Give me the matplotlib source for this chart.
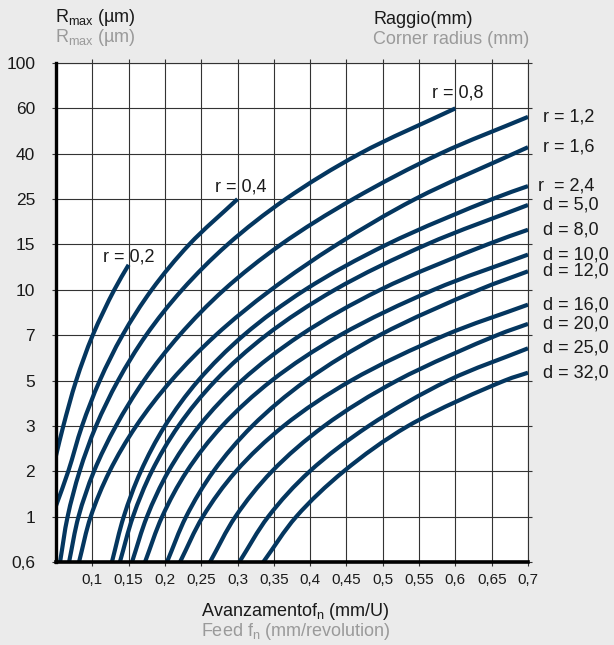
import numpy as np
import matplotlib
matplotlib.use("Agg")
import matplotlib.pyplot as plt
from matplotlib.path import Path
from matplotlib.patches import PathPatch
from matplotlib.ticker import FixedLocator, FixedFormatter, NullLocator

plt.rcParams["font.family"] = ["Liberation Sans", "DejaVu Sans"]
plt.rcParams["mathtext.fontset"] = "custom"
plt.rcParams["mathtext.rm"] = "Liberation Sans"
plt.rcParams["mathtext.it"] = "Liberation Sans:italic"

# Rmax axis: the labels are drawn evenly spaced in the original chart
rmax_ticks = [0.6, 1, 2, 3, 5, 7, 10, 15, 25, 40, 60, 100]
rmax_tick_labels = ["0,6", "1", "2", "3", "5", "7", "10", "15", "25", "40", "60", "100"]
feed_ticks = [0.1, 0.15, 0.2, 0.25, 0.3, 0.35, 0.4, 0.45, 0.5, 0.55, 0.6, 0.65, 0.7]
feed_tick_labels = ["0,1", "0,15", "0,2", "0,25", "0,3", "0,35", "0,4",
                    "0,45", "0,5", "0,55", "0,6", "0,65", "0,7"]

curve_labels = ["r = 0,2", "r = 0,4", "r = 0,8", "r = 1,2", "r = 1,6", "r  = 2,4",
                "d = 5,0", "d = 8,0", "d = 10,0", "d = 12,0", "d = 16,0",
                "d = 20,0", "d = 25,0", "d = 32,0"]

# feed (mm/U) where each curve crosses the Rmax grid lines, plus its end point
curve_feed = [
    [0.05, 0.0601, 0.0778, 0.1006, 0.1303, 0.15],
    [0.05, 0.0669, 0.0859, 0.1103, 0.1416, 0.1818, 0.2335, 0.30],
    [0.0556, 0.066, 0.0825, 0.1052, 0.1355, 0.1741, 0.2237, 0.2864, 0.3663, 0.4682, 0.60],
    [0.068, 0.081, 0.1023, 0.1326, 0.1712, 0.2201, 0.2814, 0.3599, 0.4591, 0.5789, 0.70],
    [0.0817, 0.0978, 0.1238, 0.1605, 0.2088, 0.2700, 0.3461, 0.4371, 0.5445, 0.70],
    [0.127, 0.1433, 0.1668, 0.2, 0.2459, 0.3085, 0.393, 0.5057, 0.6508, 0.70],
    [0.138, 0.156, 0.1819, 0.2187, 0.2697, 0.3395, 0.4339, 0.5604, 0.70],
    [0.1547, 0.1753, 0.2049, 0.2471, 0.3059, 0.3867, 0.4965, 0.6441, 0.70],
    [0.1726, 0.1962, 0.2302, 0.2789, 0.3471, 0.4413, 0.57, 0.70],
    [0.2029, 0.2292, 0.2669, 0.3204, 0.3945, 0.4957, 0.6324, 0.70],
    [0.2208, 0.2522, 0.2979, 0.3636, 0.4564, 0.5857, 0.70],
    [0.2621, 0.2971, 0.3475, 0.4195, 0.5197, 0.6574, 0.70],
    [0.3025, 0.3423, 0.3995, 0.4808, 0.59, 0.70],
    [0.3355, 0.3809, 0.4463, 0.535, 0.668, 0.70],
]
curve_rmax = [
    [2.3, 3, 5, 7, 10, 12.5],
    [1.18, 2, 3, 5, 7, 10, 15, 25],
    [0.6, 1, 2, 3, 5, 7, 10, 15, 25, 40, 60],
    [0.6, 1, 2, 3, 5, 7, 10, 15, 25, 40, 55.6],
    [0.6, 1, 2, 3, 5, 7, 10, 15, 25, 42.4],
    [0.6, 1, 2, 3, 5, 7, 10, 15, 25, 28.6],
    [0.6, 1, 2, 3, 5, 7, 10, 15, 23.4],
    [0.6, 1, 2, 3, 5, 7, 10, 15, 17.7],
    [0.6, 1, 2, 3, 5, 7, 10, 13.7],
    [0.6, 1, 2, 3, 5, 7, 10, 11.8],
    [0.6, 1, 2, 3, 5, 7, 8.9],
    [0.6, 1, 2, 3, 5, 7, 7.65],
    [0.6, 1, 2, 3, 5, 6.35],
    [0.6, 1, 2, 3, 5, 5.3],
]

# label offsets in points (labels above the short curves, right of the others)
label_offsets = {"r = 0,2": (0, 6), "r = 0,4": (2, 9), "r = 0,8": (2, 11), "r  = 2,4": (7, 0)}

NAVY = "#04365f"
GREY = "#9a9a9a"
INK = "#1a1a1a"

# piecewise-log scale through the tick values, extended linearly at both ends
log_ticks = np.log(rmax_ticks)
steps = np.arange(len(rmax_ticks), dtype=float)
log_ext = np.concatenate([[log_ticks[0] - 5 * (log_ticks[1] - log_ticks[0])], log_ticks,
                          [log_ticks[-1] + 5 * (log_ticks[-1] - log_ticks[-2])]])
steps_ext = np.concatenate([[-5.0], steps, [steps[-1] + 5]])


def rmax_forward(v):
    v = np.clip(np.asarray(v, dtype=float), 1e-9, None)
    return np.interp(np.log(v), log_ext, steps_ext)


def rmax_inverse(p):
    return np.exp(np.interp(np.asarray(p, dtype=float), steps_ext, log_ext))


def smooth_curve(fx, ry, sx, sy):
    # centripetal Catmull-Rom through the read points, built in scaled space
    pts = np.column_stack([np.asarray(fx, dtype=float) * sx, rmax_forward(ry) * sy])
    ext = np.vstack([2 * pts[0] - pts[1], pts, 2 * pts[-1] - pts[-2]])
    verts = [pts[0]]
    codes = [Path.MOVETO]
    for i in range(len(pts) - 1):
        p0, p1, p2, p3 = ext[i], ext[i + 1], ext[i + 2], ext[i + 3]
        d1 = np.hypot(*(p1 - p0)) ** 0.5
        d2 = np.hypot(*(p2 - p1)) ** 0.5
        d3 = np.hypot(*(p3 - p2)) ** 0.5
        b1 = (d1 ** 2 * p2 - d2 ** 2 * p0 + (2 * d1 ** 2 + 3 * d1 * d2 + d2 ** 2) * p1) / (3 * d1 * (d1 + d2))
        b2 = (d3 ** 2 * p1 - d2 ** 2 * p3 + (2 * d3 ** 2 + 3 * d3 * d2 + d2 ** 2) * p2) / (3 * d3 * (d3 + d2))
        verts += [b1, b2, p2]
        codes += [Path.CURVE4] * 3
    verts = np.array(verts)
    verts[:, 0] /= sx
    verts[:, 1] = rmax_inverse(verts[:, 1] / sy)
    return Path(verts, codes)


fig = plt.figure(figsize=(6.14, 6.45), dpi=100)
fig.patch.set_facecolor("#ebebeb")
W, H = 614, 645
ax = fig.add_axes([56 / W, (H - 562) / H, 472 / W, 499 / H])
ax.set_facecolor("white")

ax.set_yscale("function", functions=(rmax_forward, rmax_inverse))
ax.set_xlim(0.05, 0.7)
ax.set_ylim(0.6, 100)

ax.yaxis.set_major_locator(FixedLocator(rmax_ticks))
ax.yaxis.set_major_formatter(FixedFormatter(rmax_tick_labels))
ax.yaxis.set_minor_locator(NullLocator())
ax.xaxis.set_major_locator(FixedLocator(feed_ticks))
ax.xaxis.set_major_formatter(FixedFormatter(feed_tick_labels))
ax.xaxis.set_minor_locator(NullLocator())

ax.grid(True, color="#333333", linewidth=0.8)
ax.set_axisbelow(True)

# pixels per unit, only used to weight the smoothing
px_per_feed = 472 / (0.7 - 0.05)
px_per_step = 499 / (len(rmax_ticks) - 1)

for lab, fx, ry in zip(curve_labels, curve_feed, curve_rmax):
    ax.add_patch(PathPatch(smooth_curve(fx, ry, px_per_feed, px_per_step),
                           facecolor="none", edgecolor=NAVY, linewidth=3.0,
                           capstyle="butt", joinstyle="round", zorder=3))
    if fx[-1] < 0.69:
        ax.annotate(lab, (fx[-1], ry[-1]), xytext=label_offsets.get(lab, (0, 8)),
                    textcoords="offset points", ha="center", va="center",
                    fontsize=13, color=INK, zorder=4)
    else:
        ax.annotate(lab, (fx[-1], ry[-1]), xytext=label_offsets.get(lab, (11, 0)),
                    textcoords="offset points", ha="left", va="center",
                    fontsize=13, color=INK, annotation_clip=False)

for side in ["top", "right"]:
    ax.spines[side].set_linewidth(0.8)
    ax.spines[side].set_color("#333333")
ax.spines["left"].set_linewidth(2.4)
ax.spines["bottom"].set_linewidth(2.6)
for side in ["left", "bottom"]:
    ax.spines[side].set_color("black")
    ax.spines[side].set_zorder(5)

ax.tick_params(axis="both", direction="out", length=3, width=0.8, color="#333333",
               top=True, right=True, labeltop=False, labelright=False)
ax.tick_params(axis="y", pad=12, labelsize=12.5, labelcolor=INK)
ax.tick_params(axis="x", pad=5, labelsize=11, labelcolor=INK)

fig.text(55 / W, 1 - 18 / H, r"R$_{\rm max}$ (µm)", fontsize=13, color=INK, va="center")
fig.text(55 / W, 1 - 38 / H, r"R$_{\rm max}$ (µm)", fontsize=13, color=GREY, va="center")
fig.text(373 / W, 1 - 19 / H, "Raggio(mm)", fontsize=13, color=INK, va="center")
fig.text(373 / W, 1 - 40 / H, "Corner radius (mm)", fontsize=13, color=GREY, va="center")
fig.text(201 / W, 1 - 611 / H, r"Avanzamentof$_{\rm n}$ (mm/U)", fontsize=13,
         color=INK, va="center")
fig.text(201 / W, 1 - 632 / H, r"Feed f$_{\rm n}$ (mm/revolution)", fontsize=13,
         color=GREY, va="center")

fig.savefig("out.png", dpi=100, facecolor=fig.get_facecolor())
